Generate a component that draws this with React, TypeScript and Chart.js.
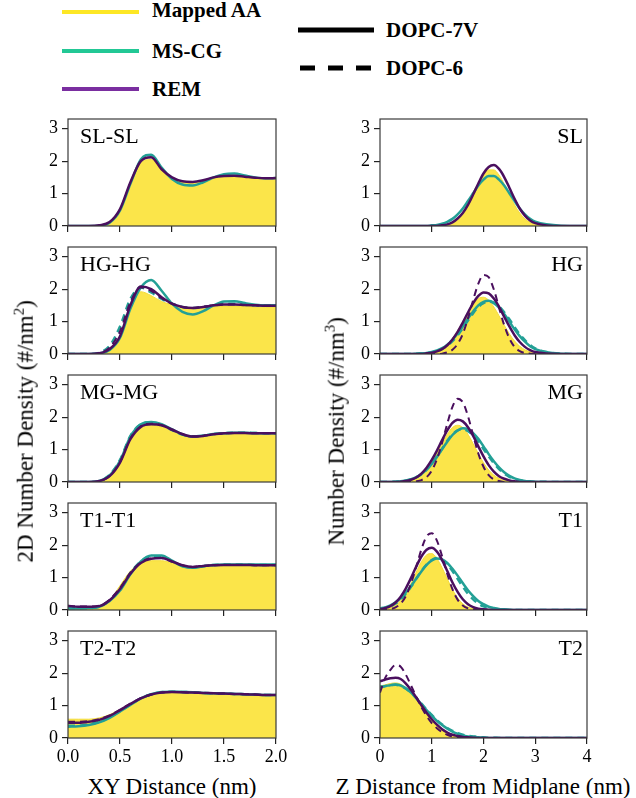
import React, { useEffect, useRef } from 'react';
import { Chart, registerables } from 'chart.js';
Chart.register(...registerables);

// ---------- data ----------
const xyDist = [0, 0.1, 0.2, 0.3, 0.4, 0.5, 0.6, 0.7, 0.8, 0.9, 1.0, 1.1, 1.2, 1.3, 1.4, 1.5, 1.6, 1.7, 1.8, 1.9, 2.0];
const zDist = [0, 0.1, 0.2, 0.3, 0.4, 0.5, 0.6, 0.7, 0.8, 0.9, 1.0, 1.1, 1.2, 1.3, 1.4, 1.5, 1.6, 1.7, 1.8, 1.9, 2.0, 2.1, 2.2, 2.3, 2.4, 2.5, 2.6, 2.7, 2.8, 2.9, 3.0, 3.5, 4.0];

const yTicks = [0, 1, 2, 3];
const xyTicks = [0, 0.5, 1.0, 1.5, 2.0];
const xyTickLabels = ['0.0', '0.5', '1.0', '1.5', '2.0'];
const zTicks = [0, 1, 2, 3, 4];
const zTickLabels = ['0', '1', '2', '3', '4'];

// 2D densities (left column)
const slslAA = [0, 0, 0, 0.02, 0.12, 0.5, 1.3, 1.95, 2.05, 1.72, 1.48, 1.37, 1.35, 1.4, 1.48, 1.53, 1.54, 1.51, 1.47, 1.45, 1.45];
const slslCG7 = [0, 0, 0, 0.01, 0.1, 0.48, 1.3, 2.05, 2.2, 1.8, 1.45, 1.28, 1.25, 1.35, 1.5, 1.6, 1.62, 1.56, 1.5, 1.47, 1.48];
const slslREM7 = [0, 0, 0, 0.02, 0.12, 0.52, 1.35, 2.0, 2.12, 1.75, 1.5, 1.38, 1.36, 1.41, 1.5, 1.54, 1.55, 1.52, 1.49, 1.47, 1.48];

const hghgAA = [0, 0, 0, 0.02, 0.15, 0.55, 1.45, 1.92, 1.8, 1.62, 1.52, 1.46, 1.43, 1.43, 1.45, 1.48, 1.48, 1.47, 1.45, 1.44, 1.44];
const hghgCG7 = [0, 0, 0, 0.02, 0.12, 0.5, 1.4, 2.05, 2.28, 1.95, 1.55, 1.3, 1.22, 1.32, 1.5, 1.62, 1.63, 1.57, 1.52, 1.5, 1.5];
const hghgCG6 = [0, 0, 0, 0.04, 0.25, 0.85, 1.7, 2.05, 1.9, 1.7, 1.55, 1.45, 1.42, 1.45, 1.5, 1.55, 1.55, 1.52, 1.5, 1.49, 1.49];
const hghgREM7 = [0, 0, 0, 0.02, 0.15, 0.55, 1.5, 2.08, 2.0, 1.75, 1.55, 1.45, 1.42, 1.45, 1.5, 1.53, 1.53, 1.51, 1.5, 1.49, 1.49];
const hghgREM6 = [0, 0, 0, 0.03, 0.2, 0.7, 1.6, 2.05, 1.95, 1.72, 1.55, 1.45, 1.42, 1.46, 1.5, 1.53, 1.53, 1.51, 1.5, 1.49, 1.49];

const mgmgAA = [0, 0, 0, 0.03, 0.18, 0.6, 1.3, 1.68, 1.75, 1.7, 1.6, 1.47, 1.4, 1.42, 1.46, 1.48, 1.5, 1.5, 1.49, 1.48, 1.48];
const mgmgCG7 = [0, 0, 0, 0.03, 0.2, 0.65, 1.4, 1.78, 1.85, 1.78, 1.62, 1.47, 1.4, 1.43, 1.48, 1.5, 1.52, 1.52, 1.51, 1.5, 1.5];
const mgmgCG6 = [0, 0, 0, 0.03, 0.22, 0.68, 1.42, 1.78, 1.84, 1.76, 1.6, 1.46, 1.4, 1.43, 1.48, 1.5, 1.52, 1.52, 1.51, 1.5, 1.5];
const mgmgREM7 = [0, 0, 0, 0.03, 0.18, 0.6, 1.32, 1.7, 1.78, 1.75, 1.62, 1.48, 1.4, 1.42, 1.47, 1.5, 1.51, 1.51, 1.5, 1.5, 1.5];
const mgmgREM6 = [0, 0, 0, 0.03, 0.19, 0.62, 1.35, 1.72, 1.8, 1.75, 1.6, 1.47, 1.4, 1.43, 1.47, 1.5, 1.51, 1.51, 1.5, 1.5, 1.5];

const t1t1AA = [0.08, 0.06, 0.06, 0.1, 0.3, 0.75, 1.2, 1.45, 1.52, 1.52, 1.45, 1.35, 1.32, 1.36, 1.38, 1.38, 1.38, 1.38, 1.37, 1.37, 1.37];
const t1t1CG7 = [0.05, 0.05, 0.06, 0.1, 0.28, 0.6, 1.1, 1.5, 1.68, 1.68, 1.52, 1.35, 1.3, 1.35, 1.39, 1.4, 1.4, 1.4, 1.4, 1.4, 1.4];
const t1t1CG6 = [0.06, 0.05, 0.06, 0.1, 0.3, 0.64, 1.14, 1.5, 1.64, 1.64, 1.5, 1.36, 1.31, 1.35, 1.39, 1.4, 1.4, 1.4, 1.39, 1.39, 1.39];
const t1t1REM7 = [0.12, 0.1, 0.1, 0.12, 0.3, 0.65, 1.12, 1.45, 1.58, 1.6, 1.5, 1.38, 1.33, 1.36, 1.38, 1.39, 1.39, 1.39, 1.38, 1.38, 1.38];
const t1t1REM6 = [0.13, 0.11, 0.11, 0.13, 0.32, 0.68, 1.15, 1.47, 1.6, 1.6, 1.49, 1.38, 1.33, 1.36, 1.38, 1.39, 1.39, 1.39, 1.38, 1.38, 1.38];

const t2t2AA = [0.58, 0.58, 0.58, 0.62, 0.72, 0.88, 1.05, 1.2, 1.32, 1.38, 1.4, 1.4, 1.4, 1.39, 1.38, 1.37, 1.36, 1.35, 1.34, 1.33, 1.33];
const t2t2CG7 = [0.35, 0.36, 0.4, 0.48, 0.62, 0.82, 1.02, 1.22, 1.35, 1.42, 1.43, 1.42, 1.41, 1.39, 1.38, 1.37, 1.36, 1.35, 1.34, 1.33, 1.33];
const t2t2CG6 = [0.38, 0.38, 0.42, 0.5, 0.64, 0.83, 1.03, 1.22, 1.35, 1.41, 1.43, 1.42, 1.41, 1.39, 1.38, 1.37, 1.36, 1.35, 1.34, 1.33, 1.33];
const t2t2REM7 = [0.47, 0.47, 0.5, 0.56, 0.68, 0.86, 1.05, 1.22, 1.34, 1.4, 1.42, 1.41, 1.4, 1.39, 1.38, 1.37, 1.36, 1.35, 1.34, 1.33, 1.33];
const t2t2REM6 = [0.5, 0.5, 0.52, 0.58, 0.7, 0.87, 1.06, 1.23, 1.34, 1.4, 1.42, 1.41, 1.4, 1.39, 1.38, 1.37, 1.36, 1.35, 1.34, 1.33, 1.33];

// Number density profiles (right column)
const slAA = [0, 0, 0, 0, 0, 0, 0, 0, 0, 0, 0, 0, 0.02, 0.05, 0.11, 0.22, 0.4, 0.65, 0.96, 1.29, 1.57, 1.73, 1.73, 1.57, 1.29, 0.96, 0.65, 0.4, 0.22, 0.11, 0.05, 0, 0];
const slCG7 = [0, 0, 0, 0, 0, 0, 0, 0, 0, 0, 0.02, 0.03, 0.07, 0.13, 0.22, 0.36, 0.54, 0.77, 1.01, 1.25, 1.43, 1.54, 1.54, 1.43, 1.25, 1.01, 0.77, 0.54, 0.36, 0.22, 0.13, 0.01, 0];
const slREM7 = [0, 0, 0, 0, 0, 0, 0, 0, 0, 0, 0, 0, 0.02, 0.05, 0.11, 0.23, 0.4, 0.65, 0.97, 1.31, 1.62, 1.82, 1.88, 1.76, 1.51, 1.18, 0.84, 0.54, 0.32, 0.17, 0.09, 0, 0];

const hgAA = [0, 0, 0, 0, 0, 0, 0, 0, 0, 0.02, 0.04, 0.09, 0.17, 0.29, 0.48, 0.72, 1.0, 1.29, 1.54, 1.71, 1.75, 1.66, 1.45, 1.18, 0.89, 0.62, 0.4, 0.24, 0.13, 0.07, 0.03, 0, 0];
const hgCG7 = [0, 0, 0, 0, 0, 0, 0, 0.01, 0.02, 0.03, 0.06, 0.11, 0.18, 0.29, 0.44, 0.63, 0.85, 1.09, 1.31, 1.5, 1.61, 1.64, 1.57, 1.43, 1.23, 1.0, 0.76, 0.55, 0.38, 0.24, 0.15, 0.01, 0];
const hgCG6 = [0, 0, 0, 0, 0, 0, 0, 0.01, 0.02, 0.03, 0.05, 0.09, 0.16, 0.26, 0.4, 0.58, 0.8, 1.03, 1.26, 1.45, 1.57, 1.61, 1.58, 1.47, 1.29, 1.07, 0.83, 0.61, 0.43, 0.28, 0.17, 0.01, 0];
const hgREM7 = [0, 0, 0, 0, 0, 0, 0, 0, 0, 0.02, 0.04, 0.08, 0.15, 0.27, 0.45, 0.68, 0.97, 1.28, 1.57, 1.79, 1.9, 1.87, 1.71, 1.46, 1.15, 0.85, 0.58, 0.37, 0.22, 0.12, 0.06, 0, 0];
const hgREM6 = [0, 0, 0, 0, 0, 0, 0, 0, 0, 0, 0, 0, 0.01, 0.05, 0.13, 0.31, 0.62, 1.1, 1.66, 2.17, 2.44, 2.37, 1.99, 1.43, 0.89, 0.48, 0.22, 0.09, 0.03, 0.01, 0, 0, 0];

const mgAA = [0, 0, 0, 0, 0, 0.02, 0.05, 0.11, 0.21, 0.37, 0.59, 0.88, 1.18, 1.47, 1.68, 1.75, 1.68, 1.47, 1.18, 0.88, 0.59, 0.37, 0.21, 0.11, 0.05, 0.02, 0, 0, 0, 0, 0, 0, 0];
const mgCG7 = [0, 0, 0, 0.01, 0.02, 0.05, 0.09, 0.15, 0.25, 0.38, 0.56, 0.77, 1.01, 1.24, 1.45, 1.59, 1.66, 1.63, 1.51, 1.33, 1.1, 0.86, 0.64, 0.45, 0.3, 0.19, 0.11, 0.06, 0.03, 0.02, 0.01, 0, 0];
const mgCG6 = [0, 0, 0, 0.01, 0.02, 0.04, 0.08, 0.14, 0.24, 0.38, 0.57, 0.79, 1.03, 1.27, 1.47, 1.59, 1.62, 1.57, 1.44, 1.25, 1.02, 0.79, 0.58, 0.4, 0.26, 0.16, 0.09, 0.05, 0.03, 0.01, 0.01, 0, 0];
const mgREM7 = [0, 0, 0, 0, 0.01, 0.03, 0.07, 0.14, 0.26, 0.44, 0.68, 0.97, 1.29, 1.59, 1.82, 1.92, 1.87, 1.69, 1.42, 1.1, 0.79, 0.52, 0.32, 0.18, 0.1, 0.05, 0.02, 0, 0, 0, 0, 0, 0];
const mgREM6 = [0, 0, 0, 0, 0, 0, 0, 0.02, 0.06, 0.15, 0.35, 0.7, 1.21, 1.8, 2.32, 2.57, 2.46, 2.03, 1.44, 0.88, 0.47, 0.21, 0.08, 0.03, 0, 0, 0, 0, 0, 0, 0, 0, 0];

const t1AA = [0.01, 0.03, 0.07, 0.15, 0.29, 0.51, 0.82, 1.17, 1.49, 1.7, 1.74, 1.59, 1.3, 0.96, 0.63, 0.37, 0.19, 0.09, 0.04, 0.02, 0.01, 0, 0, 0, 0, 0, 0, 0, 0, 0, 0, 0, 0];
const t1CG7 = [0.05, 0.08, 0.14, 0.24, 0.37, 0.54, 0.74, 0.97, 1.19, 1.39, 1.53, 1.59, 1.56, 1.45, 1.27, 1.06, 0.83, 0.61, 0.43, 0.28, 0.18, 0.1, 0.06, 0.03, 0.02, 0.01, 0, 0, 0, 0, 0, 0, 0];
const t1CG6 = [0.03, 0.06, 0.11, 0.2, 0.33, 0.5, 0.72, 0.96, 1.2, 1.4, 1.54, 1.6, 1.54, 1.4, 1.2, 0.96, 0.72, 0.5, 0.33, 0.2, 0.11, 0.06, 0.03, 0.01, 0.01, 0, 0, 0, 0, 0, 0, 0, 0];
const t1REM7 = [0.02, 0.06, 0.12, 0.23, 0.41, 0.67, 0.99, 1.34, 1.65, 1.86, 1.92, 1.8, 1.54, 1.2, 0.85, 0.56, 0.33, 0.18, 0.09, 0.04, 0.02, 0.01, 0, 0, 0, 0, 0, 0, 0, 0, 0, 0, 0];
const t1REM6 = [0, 0.01, 0.03, 0.08, 0.2, 0.43, 0.82, 1.33, 1.87, 2.27, 2.37, 2.14, 1.66, 1.11, 0.64, 0.32, 0.14, 0.05, 0.02, 0, 0, 0, 0, 0, 0, 0, 0, 0, 0, 0, 0, 0, 0];

const t2AA = [1.6, 1.64, 1.68, 1.7, 1.66, 1.55, 1.38, 1.18, 0.96, 0.75, 0.56, 0.4, 0.27, 0.17, 0.1, 0.06, 0.03, 0.02, 0.01, 0, 0, 0, 0, 0, 0, 0, 0, 0, 0, 0, 0, 0, 0];
const t2CG7 = [1.58, 1.6, 1.63, 1.65, 1.62, 1.53, 1.4, 1.23, 1.04, 0.86, 0.69, 0.53, 0.4, 0.29, 0.2, 0.13, 0.08, 0.05, 0.03, 0.02, 0.01, 0, 0, 0, 0, 0, 0, 0, 0, 0, 0, 0, 0];
const t2CG6 = [1.55, 1.6, 1.63, 1.64, 1.6, 1.52, 1.4, 1.24, 1.06, 0.88, 0.71, 0.55, 0.42, 0.31, 0.22, 0.15, 0.1, 0.07, 0.05, 0.03, 0.02, 0.01, 0.01, 0, 0, 0, 0, 0, 0, 0, 0, 0, 0];
const t2REM7 = [1.75, 1.8, 1.84, 1.86, 1.82, 1.68, 1.48, 1.25, 1.01, 0.78, 0.58, 0.41, 0.27, 0.17, 0.1, 0.06, 0.03, 0.02, 0.01, 0, 0, 0, 0, 0, 0, 0, 0, 0, 0, 0, 0, 0, 0];
const t2REM6 = [1.4, 1.85, 2.1, 2.25, 2.2, 1.95, 1.62, 1.27, 0.95, 0.68, 0.46, 0.3, 0.18, 0.1, 0.05, 0.03, 0.01, 0, 0, 0, 0, 0, 0, 0, 0, 0, 0, 0, 0, 0, 0, 0, 0];

// ---------- styling ----------
const FONT = "'Liberation Serif', 'Times New Roman', serif";
const AA_FILL = '#fbe54a';
const CG_COLOR = '#23a096';
const REM_COLOR = '#4a0f5e';
const LEG_YELLOW = '#fde725';
const LEG_TEAL = '#22c895';
const LEG_PURPLE = '#7a2ea0';

type PanelDef = {
  col: number; row: number; label: string;
  aa: number[]; cg7: number[]; cg6: number[] | null; rem7: number[]; rem6: number[] | null;
};

const PANELS: PanelDef[] = [
  { col: 0, row: 0, label: 'SL-SL', aa: slslAA, cg7: slslCG7, cg6: null, rem7: slslREM7, rem6: null },
  { col: 0, row: 1, label: 'HG-HG', aa: hghgAA, cg7: hghgCG7, cg6: hghgCG6, rem7: hghgREM7, rem6: hghgREM6 },
  { col: 0, row: 2, label: 'MG-MG', aa: mgmgAA, cg7: mgmgCG7, cg6: mgmgCG6, rem7: mgmgREM7, rem6: mgmgREM6 },
  { col: 0, row: 3, label: 'T1-T1', aa: t1t1AA, cg7: t1t1CG7, cg6: t1t1CG6, rem7: t1t1REM7, rem6: t1t1REM6 },
  { col: 0, row: 4, label: 'T2-T2', aa: t2t2AA, cg7: t2t2CG7, cg6: t2t2CG6, rem7: t2t2REM7, rem6: t2t2REM6 },
  { col: 1, row: 0, label: 'SL', aa: slAA, cg7: slCG7, cg6: null, rem7: slREM7, rem6: null },
  { col: 1, row: 1, label: 'HG', aa: hgAA, cg7: hgCG7, cg6: hgCG6, rem7: hgREM7, rem6: hgREM6 },
  { col: 1, row: 2, label: 'MG', aa: mgAA, cg7: mgCG7, cg6: mgCG6, rem7: mgREM7, rem6: mgREM6 },
  { col: 1, row: 3, label: 'T1', aa: t1AA, cg7: t1CG7, cg6: t1CG6, rem7: t1REM7, rem6: t1REM6 },
  { col: 1, row: 4, label: 'T2', aa: t2AA, cg7: t2CG7, cg6: t2CG6, rem7: t2REM7, rem6: t2REM6 },
];

// layout
const PLOT_LEFT = [68, 380];
const PLOT_W = [208, 207];
const PLOT_TOP0 = 119;
const ROW_STEP = 128;
const PLOT_H = 107;
const Y_AXIS_W = 40;
const PAD_T = 4;
const PAD_R = 16;

function pts(xs: number[], ys: number[]) {
  return xs.map((x, i) => ({ x, y: ys[i] }));
}

function Panel({ p }: { p: PanelDef }) {
  const ref = useRef<HTMLCanvasElement | null>(null);
  const bottom = p.row === 4;
  const xh = bottom ? 32 : 10;
  const w = Y_AXIS_W + PLOT_W[p.col] + PAD_R;
  const h = PAD_T + PLOT_H + xh;
  const left = PLOT_LEFT[p.col] - Y_AXIS_W;
  const top = PLOT_TOP0 + p.row * ROW_STEP - PAD_T;

  useEffect(() => {
    const xs = p.col === 0 ? xyDist : zDist;
    const xTicks = p.col === 0 ? xyTicks : zTicks;
    const xLabels = p.col === 0 ? xyTickLabels : zTickLabels;
    const datasets: any[] = [];
    datasets.push({ data: pts(xs, p.aa), borderColor: '#f3dc3a', borderWidth: 1, backgroundColor: AA_FILL, fill: 'origin', order: 10 });
    if (p.cg6) datasets.push({ data: pts(xs, p.cg6), borderColor: CG_COLOR, borderWidth: 2.5, borderDash: [7, 5], fill: false, order: 4 });
    datasets.push({ data: pts(xs, p.cg7), borderColor: CG_COLOR, borderWidth: 2.5, fill: false, order: 3 });
    datasets.push({ data: pts(xs, p.rem7), borderColor: REM_COLOR, borderWidth: 2.5, fill: false, order: 2 });
    if (p.rem6) datasets.push({ data: pts(xs, p.rem6), borderColor: REM_COLOR, borderWidth: 2, borderDash: [7, 5], fill: false, order: 1 });

    const framePlugin = {
      id: 'frameAndLabel',
      afterDatasetsDraw(chart: any) {
        const { ctx, chartArea } = chart;
        ctx.save();
        ctx.strokeStyle = '#3a3a3a';
        ctx.lineWidth = 1.2;
        ctx.strokeRect(chartArea.left, chartArea.top, chartArea.right - chartArea.left, chartArea.bottom - chartArea.top);
        ctx.fillStyle = '#000';
        ctx.font = `22px ${FONT}`;
        ctx.textBaseline = 'middle';
        if (p.col === 0) {
          ctx.textAlign = 'left';
          ctx.fillText(p.label, chartArea.left + 12, chartArea.top + 18);
        } else {
          ctx.textAlign = 'right';
          ctx.fillText(p.label, chartArea.right - 4, chartArea.top + 18);
        }
        ctx.restore();
      },
    };

    const chart = new Chart(ref.current as HTMLCanvasElement, {
      type: 'line',
      data: { datasets },
      options: {
        animation: false,
        responsive: false,
        maintainAspectRatio: false,
        layout: { padding: { top: PAD_T, right: PAD_R, left: 0, bottom: 0 } },
        plugins: { legend: { display: false }, tooltip: { enabled: false } },
        elements: { point: { radius: 0 }, line: { cubicInterpolationMode: 'monotone' } },
        scales: {
          x: {
            type: 'linear',
            min: 0,
            max: xTicks[xTicks.length - 1],
            afterBuildTicks: (s: any) => { s.ticks = xTicks.map((v) => ({ value: v })); },
            ticks: {
              autoSkip: false,
              maxRotation: 0,
              padding: 2,
              color: '#000',
              font: { family: FONT, size: 18 },
              callback: (_v: any, i: number) => (bottom ? xLabels[i] : ''),
            },
            grid: { drawOnChartArea: false, drawTicks: true, tickLength: 6, color: '#222', lineWidth: 1.2 },
            border: { display: false },
            afterFit: (s: any) => { s.height = xh; s.paddingLeft = 0; s.paddingRight = 0; },
          },
          y: {
            type: 'linear',
            min: 0,
            max: 3.3,
            afterBuildTicks: (s: any) => { s.ticks = yTicks.map((v) => ({ value: v })); },
            ticks: {
              padding: 4,
              color: '#000',
              font: { family: FONT, size: 18 },
              callback: (v: any) => String(v),
            },
            grid: { drawOnChartArea: false, drawTicks: true, tickLength: 6, color: '#222', lineWidth: 1.2 },
            border: { display: false },
            afterFit: (s: any) => { s.width = Y_AXIS_W; s.paddingTop = 0; s.paddingBottom = 0; },
          },
        },
      } as any,
      plugins: [framePlugin],
    });
    return () => chart.destroy();
  }, []);

  return (
    <canvas
      ref={ref}
      width={w}
      height={h}
      style={{ position: 'absolute', left, top, width: w, height: h }}
    />
  );
}

function LegendLine({ x1, x2, y, color, width, dash }: { x1: number; x2: number; y: number; color: string; width: number; dash?: string }) {
  return (
    <svg style={{ position: 'absolute', left: 0, top: 0, overflow: 'visible' }} width={636} height={100}>
      <line x1={x1} x2={x2} y1={y} y2={y} stroke={color} strokeWidth={width} strokeDasharray={dash} />
    </svg>
  );
}

const legendText: React.CSSProperties = {
  position: 'absolute',
  fontFamily: FONT,
  fontWeight: 'bold',
  fontSize: 21,
  lineHeight: '24px',
  whiteSpace: 'nowrap',
  color: '#000',
};

const axisTitle: React.CSSProperties = {
  position: 'absolute',
  fontFamily: FONT,
  fontWeight: 'normal',
  fontSize: 23,
  lineHeight: '26px',
  whiteSpace: 'nowrap',
  color: '#000',
  textAlign: 'center',
};

export default function App() {
  return (
    <div style={{ position: 'absolute', left: 0, top: 0, width: 636, height: 798, background: '#fff', overflow: 'hidden' }}>
      <LegendLine x1={62} x2={139} y={12} color={LEG_YELLOW} width={4} />
      <LegendLine x1={62} x2={139} y={51} color={LEG_TEAL} width={4} />
      <LegendLine x1={62} x2={139} y={89} color={LEG_PURPLE} width={4} />
      <LegendLine x1={298} x2={374} y={30} color="#000" width={5} />
      <LegendLine x1={300} x2={372} y={68} color="#000" width={5} dash="15 13" />
      <div style={{ ...legendText, left: 152, top: -2 }}>Mapped AA</div>
      <div style={{ ...legendText, left: 152, top: 39 }}>MS-CG</div>
      <div style={{ ...legendText, left: 152, top: 77 }}>REM</div>
      <div style={{ ...legendText, left: 386, top: 18 }}>DOPC-7V</div>
      <div style={{ ...legendText, left: 386, top: 56 }}>DOPC-6</div>

      {PANELS.map((p) => <Panel key={p.label} p={p} />)}

      <div style={{ ...axisTitle, left: 22 - 200, top: 428 - 13, width: 400, transform: 'rotate(-90deg)' }}>
        2D Number Density (#/nm<sup style={{ fontSize: 15 }}>2</sup>)
      </div>
      <div style={{ ...axisTitle, left: 333 - 200, top: 428 - 13, width: 400, transform: 'rotate(-90deg)' }}>
        Number Density (#/nm<sup style={{ fontSize: 15 }}>3</sup>)
      </div>
      <div style={{ ...axisTitle, left: 172 - 150, top: 774, width: 300 }}>XY Distance (nm)</div>
      <div style={{ ...axisTitle, left: 483 - 180, top: 774, width: 360 }}>Z Distance from Midplane (nm)</div>
    </div>
  );
}
